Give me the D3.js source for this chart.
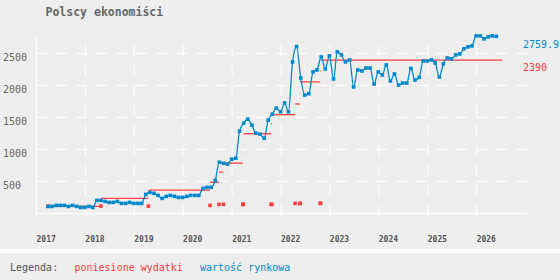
<!DOCTYPE html>
<html>
<head>
<meta charset="utf-8">
<script src="https://cdn.jsdelivr.net/npm/d3@7"></script>
<style>
body { margin: 0; background: #eeeeee; }
svg { display: block; font-family: "DejaVu Sans Mono", monospace; }
</style>
</head>
<body>
<script>
var tytul = "Polscy ekonomiści";

// wartość rynkowa, co miesiąc od kwietnia 2017
var pierwszyMiesiac = "2017-04";
var rynkowa = [
  103, 103, 119, 119, 119, 103, 119, 103, 87,
  87, 103, 87, 197, 197, 181, 166, 166, 181, 150, 150, 166, 150,
  150, 150, 291, 322, 307, 275, 228, 260, 275, 260, 244, 244,
  260, 275, 275, 275, 385, 401, 401, 511, 793, 777, 762, 840,
  856, 1279, 1404, 1467, 1373, 1248, 1232, 1169, 1451, 1545, 1639, 1582,
  1720, 1580, 2360, 2600, 2110, 1843, 1864, 2204, 2235, 2439, 2251, 2455,
  2094, 2517, 2470, 2360, 2392, 1969, 2235, 2219, 2266, 2266, 2016, 2204,
  2157, 2313, 2063, 2172, 2000, 2031, 2031, 2260, 2078, 2118, 2376, 2376,
  2392, 2345, 2125, 2329, 2423, 2408, 2470, 2486, 2564, 2596, 2611, 2768,
  2768, 2721, 2752, 2768, 2760
];

// poniesione wydatki
var wydatkiDaty = ["2017-04-01", "2018-05-01", "2019-04-20", "2020-07-24", "2020-09-29",
  "2020-11-01", "2021-03-26", "2021-03-28", "2021-03-30", "2021-10-22", "2021-10-29",
  "2022-04-20", "2022-05-26", "2022-05-29", "2022-10-24", "2022-10-28"];
var wydatkiKwoty = [108, 108, 108, 119, 135, 135, 135, 135, 135, 135, 135, 150, 150, 150, 150, 150];
var wydatkiSuma = [105, 230, 356, 481, 638, 779, 935, 1076, 1238, 1395, 1536, 1703, 1876, 2048, 2219, 2390];
var koniec = "2026-07-17";

var lata = [2017, 2018, 2019, 2020, 2021, 2022, 2023, 2024, 2025, 2026];
var yTicks = [500, 1000, 1500, 2000, 2500];
var etykietaRynkowa = "2759.9", etykietaWydatki = "2390";

var red = "#ff4040", blue = "#0088cc";
var parseDay = d3.utcParse("%Y-%m-%d"), parseMonth = d3.utcParse("%Y-%m");

var start = parseMonth(pierwszyMiesiac);
var miesiace = d3.utcMonth.range(start, d3.utcMonth.offset(start, rynkowa.length));
var punkty = rynkowa.map(function(v, i) { return {d: miesiace[i], v: v}; });
var wydatki = wydatkiDaty.map(function(d, i) {
  return {d: parseDay(d), kwota: wydatkiKwoty[i], suma: wydatkiSuma[i],
          koniec: parseDay(wydatkiDaty[i + 1] || koniec)};
});

var svg = d3.select("body").append("svg")
    .attr("width", 560)
    .attr("height", 280);

var x = d3.scaleUtc()
    .domain([new Date(Date.UTC(2017, 0, 1)), new Date(Date.UTC(2027, 0, 1))])
    .range([36, 525]);
var y = d3.scaleLinear()
    .domain([0, 2765.625])
    .range([213, 36]);

svg.append("text")
    .attr("x", 45.5).attr("y", 16)
    .style("font-size", "11.5px").style("font-weight", "bold")
    .style("fill", "#666")
    .text(tytul);

// siatka pozioma + etykiety osi y
var gy = svg.append("g")
    .attr("transform", "translate(36,0)")
    .call(d3.axisLeft(y).tickValues(yTicks).tickFormat(d3.format("d")).tickSize(-491));
gy.select(".domain").remove();
gy.selectAll(".tick line")
    .attr("stroke", "#fff").attr("stroke-dasharray", "11,9");
gy.selectAll(".tick text")
    .attr("x", -33).attr("dy", 0).attr("y", 7.5)
    .style("text-anchor", "start")
    .style("font-family", "DejaVu Sans Mono, monospace")
    .style("font-size", "10px").style("fill", "#666");

// siatka pionowa + lata
var gx = svg.append("g")
    .attr("transform", "translate(0,216)")
    .call(d3.axisBottom(x)
      .tickValues(lata.map(function(r) { return new Date(Date.UTC(r, 0, 1)); }))
      .tickFormat(d3.utcFormat("%Y"))
      .tickSize(-180));
gx.select(".domain").remove();
gx.selectAll(".tick line")
    .attr("stroke", "#fff").attr("stroke-dasharray", "11,9");
gx.selectAll(".tick text")
    .attr("y", 26).attr("dy", 0).attr("x", 0)
    .style("text-anchor", "start")
    .style("font-family", "DejaVu Sans Mono, monospace")
    .style("font-size", "8px").style("font-weight", "bold").style("fill", "#555");

svg.append("line")
    .attr("x1", 36.5).attr("x2", 36.5).attr("y1", 36).attr("y2", 214)
    .attr("stroke", "#fff");
svg.append("line")
    .attr("x1", 36).attr("x2", 527).attr("y1", 213.5).attr("y2", 213.5)
    .attr("stroke", "#fff");

// wydatki
svg.selectAll(".suma")
    .data(wydatki)
    .enter().append("line")
    .attr("class", "suma")
    .attr("x1", function(d) { return x(d.d); })
    .attr("x2", function(d) { return x(d.koniec); })
    .attr("y1", function(d) { return y(d.suma); })
    .attr("y2", function(d) { return y(d.suma); })
    .attr("stroke", red).attr("stroke-width", 1.3);
svg.selectAll(".kwota")
    .data(wydatki)
    .enter().append("rect")
    .attr("class", "kwota")
    .attr("x", function(d) { return x(d.d) - 1.8; })
    .attr("y", function(d) { return y(d.kwota) - 1.8; })
    .attr("width", 3.6).attr("height", 3.6)
    .style("fill", red);

// wartość rynkowa
var line = d3.line()
    .curve(d3.curveMonotoneX)
    .x(function(d) { return x(d.d); })
    .y(function(d) { return y(d.v); });
svg.append("path")
    .datum(punkty)
    .attr("d", line)
    .attr("fill", "none").attr("stroke", blue).attr("stroke-width", 1.3);
svg.selectAll(".pkt")
    .data(punkty)
    .enter().append("rect")
    .attr("class", "pkt")
    .attr("x", function(d) { return x(d.d) - 1.8; })
    .attr("y", function(d) { return y(d.v) - 1.8; })
    .attr("width", 3.6).attr("height", 3.6)
    .style("fill", blue);

svg.append("text")
    .attr("x", 523).attr("y", y(2759.9) + 11.5)
    .style("font-size", "10px").style("fill", blue)
    .text(etykietaRynkowa);
svg.append("text")
    .attr("x", 523).attr("y", y(2390) + 10.7)
    .style("font-size", "10px").style("fill", red)
    .text(etykietaWydatki);

// legenda
svg.append("rect")
    .attr("x", 0).attr("y", 249).attr("width", 560).attr("height", 4)
    .style("fill", "#fff");
var leg = svg.append("g").style("font-size", "10px");
leg.append("text").attr("x", 10).attr("y", 271).style("fill", "#555").text("Legenda:");
leg.append("text").attr("x", 74.5).attr("y", 271).style("fill", red).text("poniesione wydatki");
leg.append("text").attr("x", 200).attr("y", 271).style("fill", blue).text("wartość rynkowa");
</script>
</body>
</html>
